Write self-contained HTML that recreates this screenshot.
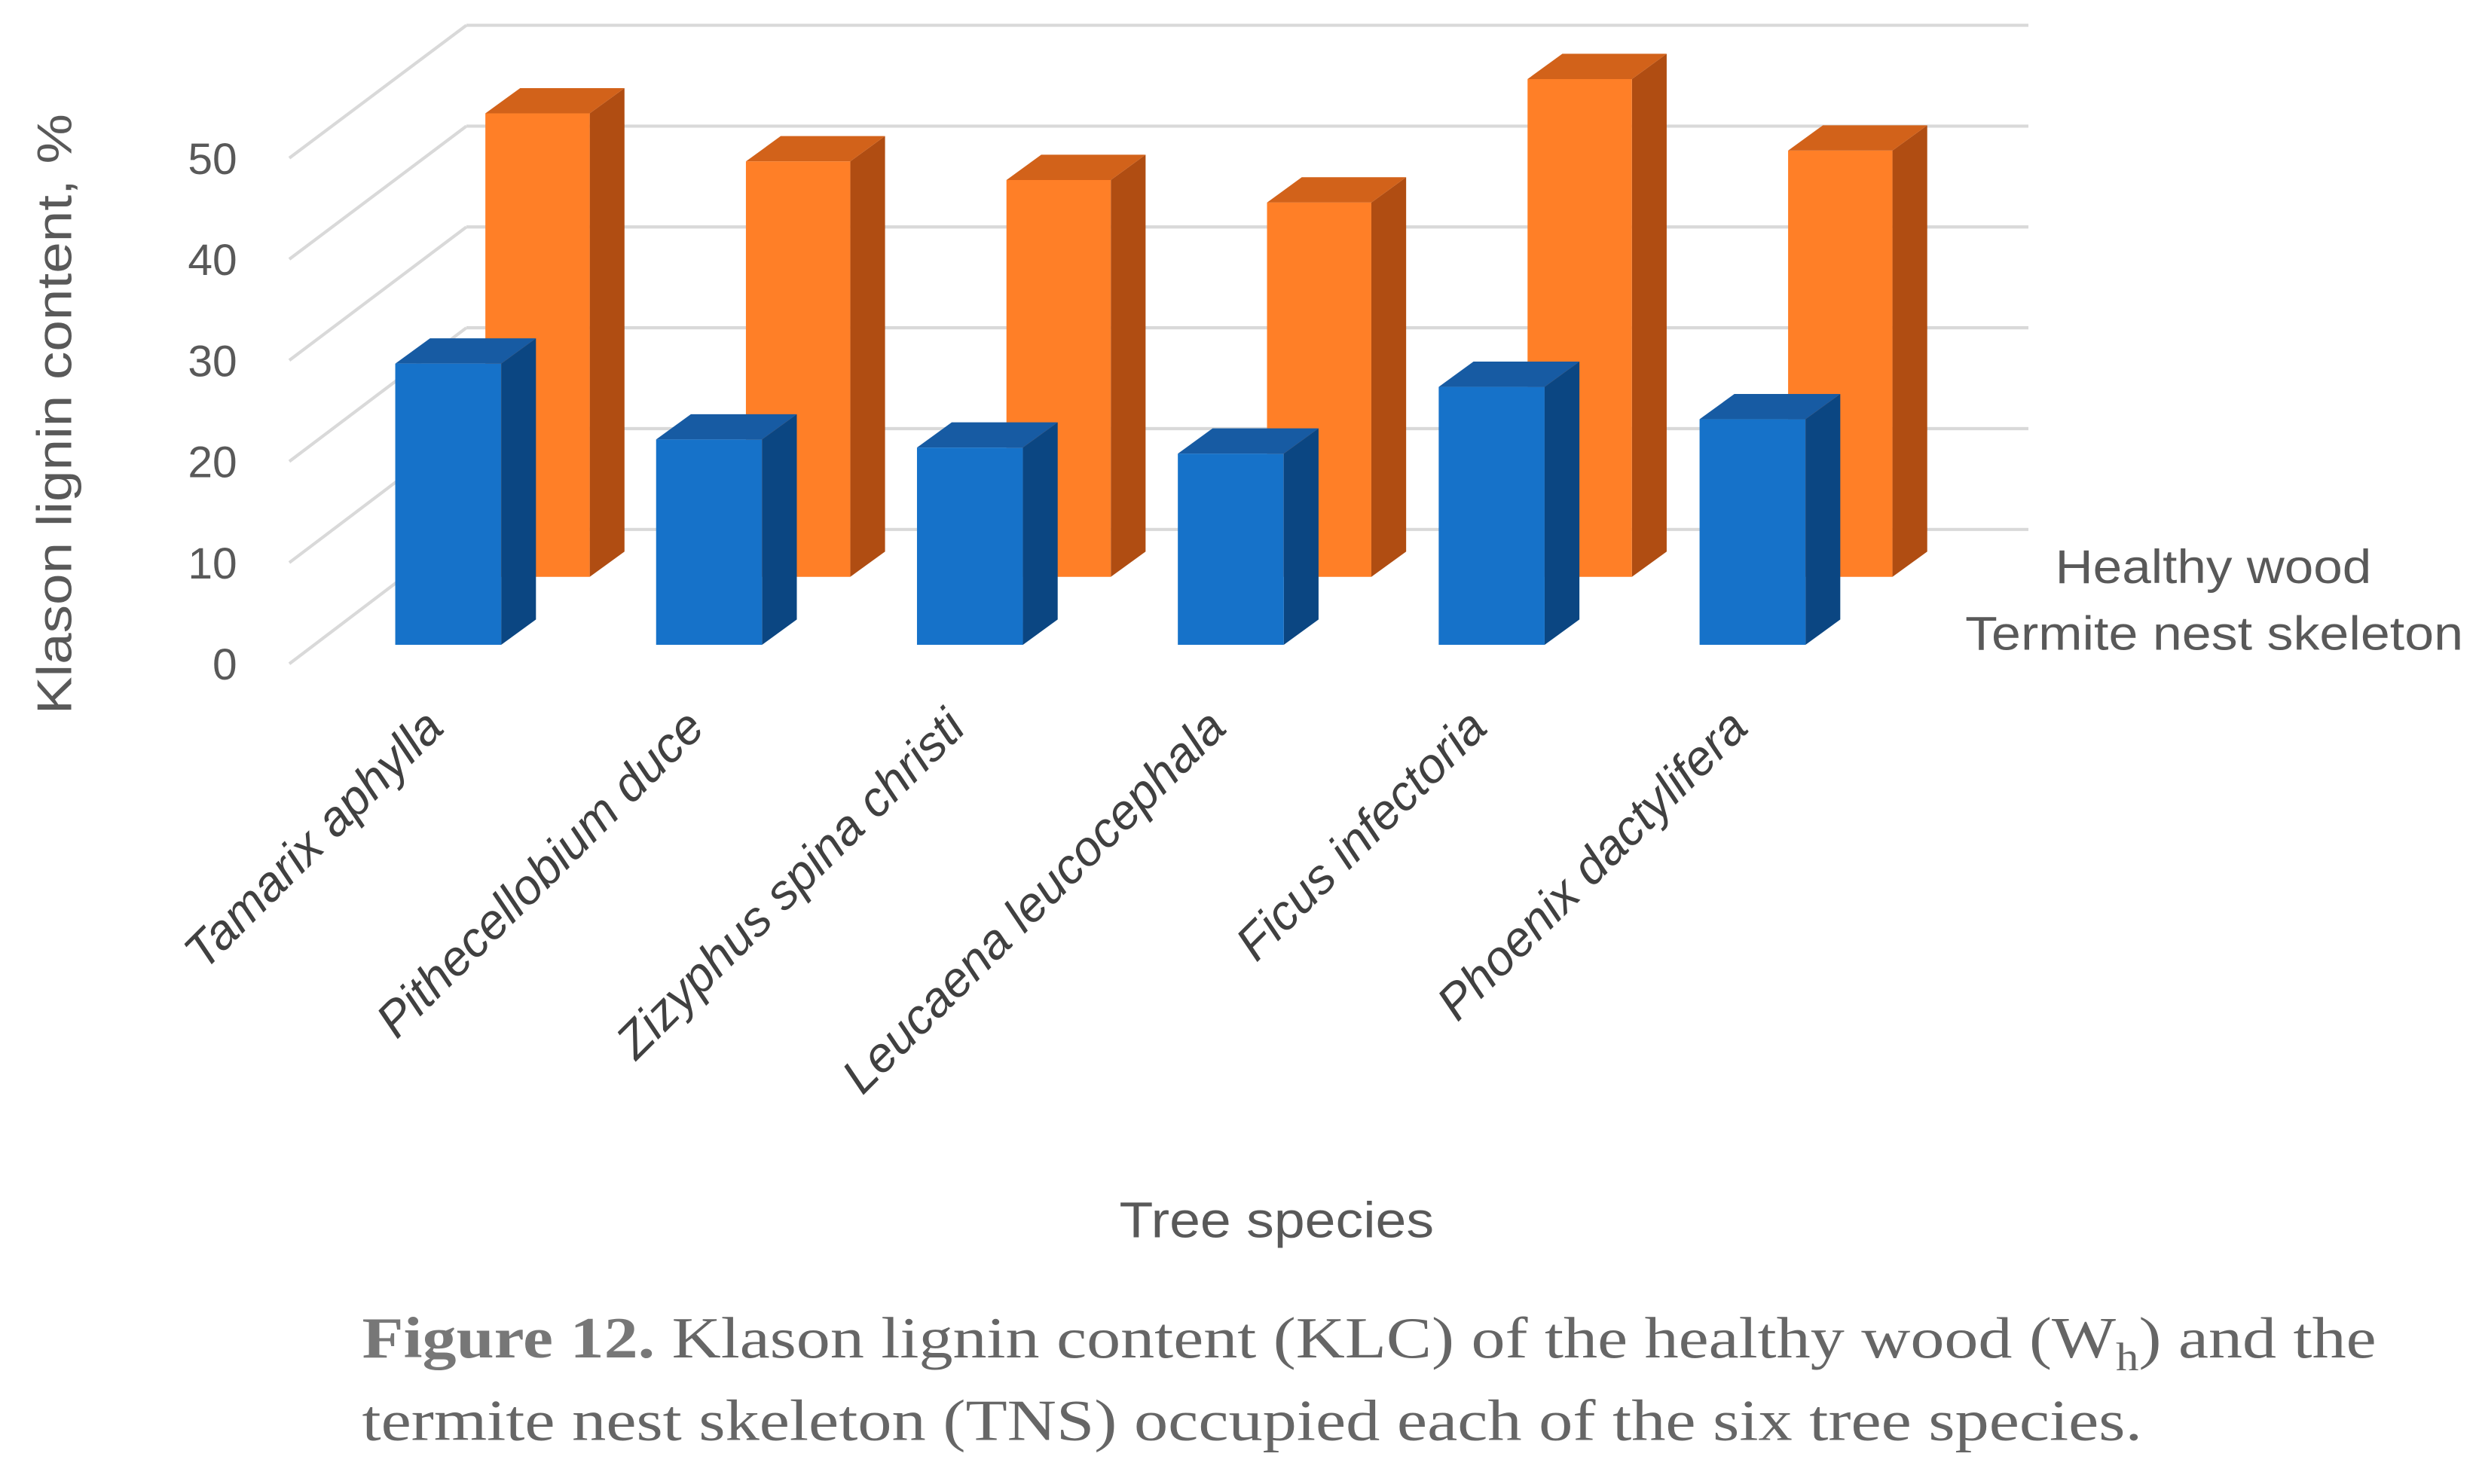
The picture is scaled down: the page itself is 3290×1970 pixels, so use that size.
<!DOCTYPE html>
<html><head><meta charset="utf-8"><style>
html,body{margin:0;padding:0;background:#fff;}
svg{display:block;}
</style></head><body>
<svg width="3290" height="1970" viewBox="0 0 1568 939" preserveAspectRatio="none" xmlns="http://www.w3.org/2000/svg">
<g id="grid"></g>
<g id="ticks" font-family="Liberation Sans, sans-serif" font-size="28" fill="#595959" text-anchor="end"></g>
<g id="bars"></g>
<g id="cats" font-family="Liberation Sans, sans-serif" font-size="31" font-style="italic" fill="#404040" text-anchor="end"></g>
<text x="0" y="0" transform="translate(45,262) rotate(-90)" text-anchor="middle" font-family="Liberation Sans, sans-serif" font-size="31" fill="#595959" textLength="380" lengthAdjust="spacingAndGlyphs">Klason lignin content, %</text>
<text x="708" y="783" font-family="Liberation Sans, sans-serif" font-size="32" fill="#595959" textLength="199" lengthAdjust="spacingAndGlyphs">Tree species</text>
<text x="1300" y="369" font-family="Liberation Sans, sans-serif" font-size="30" fill="#595959" textLength="200" lengthAdjust="spacingAndGlyphs">Healthy wood</text>
<text x="1243" y="411" font-family="Liberation Sans, sans-serif" font-size="30" fill="#595959" textLength="315" lengthAdjust="spacingAndGlyphs">Termite nest skeleton</text>
<text x="229" y="859" font-family="Liberation Serif, serif" font-size="37" fill="#666" textLength="1274" lengthAdjust="spacingAndGlyphs"><tspan font-weight="bold" fill="#777">Figure 12.</tspan> Klason lignin content (KLC) of the healthy wood (W<tspan font-size="25" dy="8">h</tspan><tspan dy="-8">) and the</tspan></text>
<text x="229" y="911" font-family="Liberation Serif, serif" font-size="37" fill="#666" textLength="1126" lengthAdjust="spacingAndGlyphs">termite nest skeleton (TNS) occupied each of the six tree species.</text>
</svg>
<script>
const categories=["Tamarix aphylla","Pithecellobium duce","Zizyphus spina christi","Leucaena leucocephala","Ficus infectoria","Phoenix dactylifera"];
const healthy=[27.8,20.3,19.5,18.9,25.5,22.3];
const termite=[47.3,42.4,40.5,38.2,50.8,43.5];
const ticks=[0,10,20,30,40,50];
const NS="http://www.w3.org/2000/svg";
function mk(tag,attrs,parent){const e=document.createElementNS(NS,tag);for(const k in attrs)e.setAttribute(k,attrs[k]);parent.appendChild(e);return e;}
const grid=document.getElementById('grid'),tk=document.getElementById('ticks'),bars=document.getElementById('bars'),cats=document.getElementById('cats');
function yFront(v){return 420-v*6.4;}
function yBack(v){return 335-v*6.38;}
ticks.forEach(t=>{
  const l1=mk('line',{x1:183,y1:yFront(t),x2:295,y2:yBack(t),stroke:'#d9d9d9','stroke-width':2},grid);
  
  
  const l2=mk('line',{x1:295,y1:yBack(t),x2:1283,y2:yBack(t),stroke:'#d9d9d9','stroke-width':2},grid);
  
  
  const tx=mk('text',{x:150,y:yFront(t)+10},tk);tx.textContent=t;
  
  
});
function bar(x,base,h,w,c,name){
  const g=mk('g',{},bars);
  
  
  const top=base-h,dx=22,dy=16;
  mk('polygon',{points:`${x+w},${base} ${x+w+dx},${base-dy} ${x+w+dx},${top-dy} ${x+w},${top}`,fill:c[1]},g);
  mk('polygon',{points:`${x},${top} ${x+dx},${top-dy} ${x+w+dx},${top-dy} ${x+w},${top}`,fill:c[2]},g);
  mk('rect',{x:x,y:top,width:w,height:h,fill:c[0]},g);
}
categories.forEach((c,i)=>{
  bar(307+i*164.8,365,termite[i]*6.2,66,['#ff7f27','#b04d12','#d2621a'],'bar-termite-'+i);
});
categories.forEach((c,i)=>{
  bar(250+i*165,408,healthy[i]*6.4,67,['#1672c9','#0b4682','#175ba3'],'bar-healthy-'+i);
  const x=282+i*165,y=462;
  const t=mk('text',{x:0,y:0,transform:`translate(${x},${y}) rotate(-45)`},cats);
  t.textContent=c;
  
  
});
</script>
</body></html>
